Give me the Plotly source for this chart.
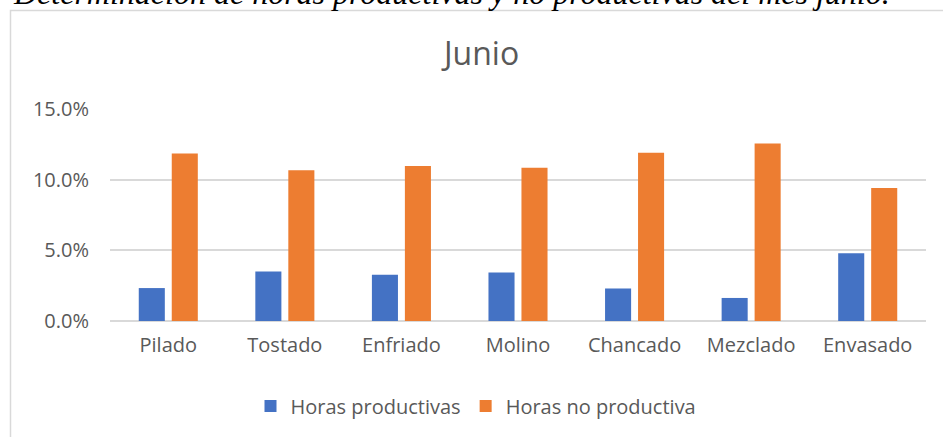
import plotly.graph_objects as go

# Process stages and share of hours (percent) for June
etapas = ["Pilado", "Tostado", "Enfriado", "Molino", "Chancado", "Mezclado", "Envasado"]
horas_productivas = [2.33, 3.50, 3.27, 3.43, 2.30, 1.63, 4.79]
horas_no_productivas = [11.85, 10.66, 10.96, 10.84, 11.90, 12.56, 9.41]
nombres_series = ["Horas productivas", "Horas no productiva"]
y_ticks = [0, 5, 10, 15]

W, H = 943, 437
ML, MR, MT, MB = 110, 17, 109, 116
PW, PH = W - ML - MR, H - MT - MB

def px_x(x):
    return (x - ML) / PW

def px_y(y):
    return (H - MB - y) / PH

gris_texto = "#595959"
gris_linea = "#d9d9d9"

fig = go.Figure()
fig.add_trace(go.Bar(x=etapas, y=horas_productivas, name=nombres_series[0],
                     marker=dict(color="#4472C4", line=dict(width=0))))
fig.add_trace(go.Bar(x=etapas, y=horas_no_productivas, name=nombres_series[1],
                     marker=dict(color="#ED7D31", line=dict(width=0))))

fig.update_layout(
    width=W, height=H,
    margin=dict(l=ML, r=MR, t=MT, b=MB, pad=0),
    paper_bgcolor="white", plot_bgcolor="white",
    barmode="group", bargap=0.434, bargroupgap=0.21,
    font=dict(family="Open Sans", color=gris_texto, size=20),
    showlegend=True,
    legend=dict(orientation="h", x=px_x(476), xanchor="center",
                y=px_y(406), yanchor="middle",
                font=dict(size=20, color=gris_texto),
                itemwidth=30, traceorder="normal", bgcolor="rgba(0,0,0,0)"),
    xaxis=dict(showgrid=False, showline=False, ticks="",
               tickfont=dict(size=20, color=gris_texto),
               ticklabelstandoff=10),
    yaxis=dict(range=[0, 15], tickvals=y_ticks,
               ticktext=[f"{v:.1f}%" for v in y_ticks],
               showgrid=True, gridcolor=gris_linea, gridwidth=1.5,
               zeroline=True, zerolinecolor=gris_linea, zerolinewidth=1.5,
               showline=False, ticks="",
               tickfont=dict(size=20, color=gris_texto),
               ticklabelstandoff=20),
    shapes=[dict(type="rect", xref="paper", yref="paper",
                 x0=px_x(10.5), x1=px_x(960), y0=px_y(460), y1=px_y(10.5),
                 line=dict(color=gris_linea, width=1.5), fillcolor="rgba(0,0,0,0)",
                 layer="below")],
    annotations=[
        dict(text="Junio", xref="paper", yref="paper",
             x=px_x(480), y=px_y(52.6), xanchor="center", yanchor="middle",
             showarrow=False, font=dict(family="Open Sans", size=32, color=gris_texto)),
        dict(text="Determinación de horas productivas y no productivas del mes junio.",
             xref="paper", yref="paper",
             x=px_x(11), y=px_y(-7), xanchor="left", yanchor="middle",
             showarrow=False,
             font=dict(family="Liberation Serif", size=32, color="black", style="italic")),
    ],
)

fig.write_html("out.html")
